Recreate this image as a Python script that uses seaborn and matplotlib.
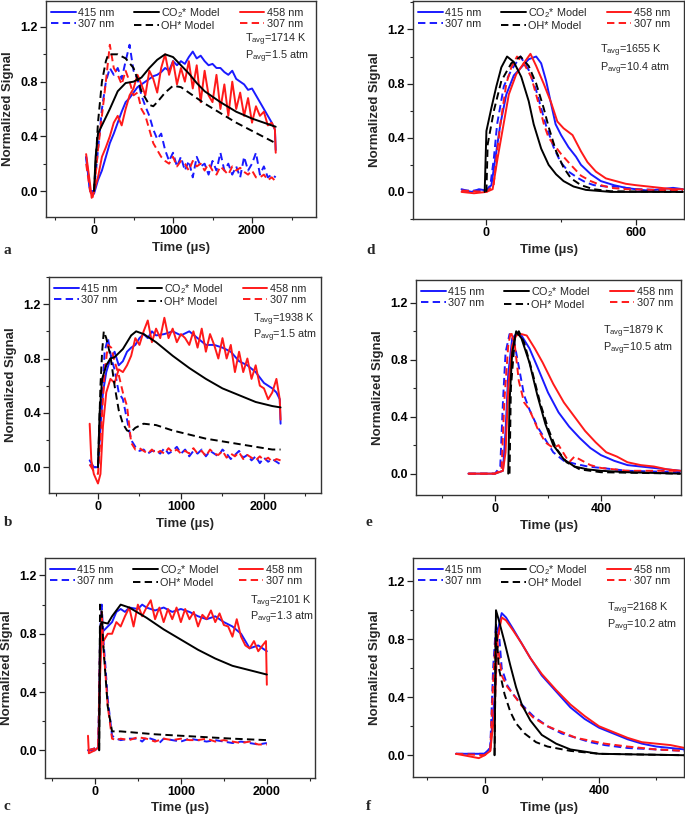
import matplotlib
matplotlib.use("Agg")
import matplotlib.pyplot as plt
import seaborn as sns
from matplotlib.ticker import MultipleLocator, FormatStrFormatter
from matplotlib.lines import Line2D

# -- Data ----------------------------------------------------------------------
# panel a : 1714 K, 1.5 atm
a_415_t = [-100, -50, 0, 50, 100, 150, 200, 250, 300, 350, 400, 450, 500, 550, 600, 650, 700, 750, 800, 850, 900,
           950, 1000, 1050, 1100, 1150, 1200, 1250, 1300, 1350, 1400, 1450, 1500, 1550, 1600, 1650, 1700, 1750, 1800,
           1850, 1900, 1950, 2000, 2050, 2100, 2150, 2200, 2250, 2290, 2300]
a_415 = [0.25, 0.0, -0.02, 0.08, 0.15, 0.25, 0.35, 0.42, 0.5, 0.58, 0.65, 0.68, 0.72, 0.76, 0.78, 0.8, 0.82, 0.84,
         0.85, 0.87, 0.9, 0.88, 0.95, 0.92, 0.95, 0.93, 0.98, 1.02, 0.97, 0.99, 0.95, 0.92, 0.93, 0.9, 0.9, 0.87,
         0.85, 0.88, 0.82, 0.8, 0.78, 0.74, 0.75, 0.7, 0.65, 0.6, 0.55, 0.5, 0.45, 0.3]
a_458_t = [-100, -50, -30, 0, 50, 100, 150, 200, 250, 300, 350, 400, 450, 500, 550, 600, 650, 700, 750, 800, 850, 900,
           950, 1000, 1050, 1100, 1150, 1200, 1250, 1300, 1350, 1400, 1450, 1500, 1550, 1600, 1650, 1700, 1750, 1800,
           1850, 1900, 1950, 2000, 2050, 2100, 2150, 2200, 2250, 2290, 2300]
a_458 = [0.27, 0.05, -0.05, 0.0, 0.1, 0.25, 0.32, 0.4, 0.5, 0.55, 0.48, 0.6, 0.7, 0.75, 0.85, 0.78, 0.7, 0.88, 0.82,
         0.72, 0.9, 1.0, 0.85, 0.95, 0.78, 0.9, 0.8, 0.95, 0.75, 0.92, 0.65, 0.88, 0.7, 0.65, 0.85, 0.6, 0.78, 0.55,
         0.8, 0.6, 0.72, 0.55, 0.68, 0.5, 0.62, 0.55, 0.58, 0.48, 0.5, 0.45, 0.28]
a_co2_t = [0, 20, 50, 100, 200, 300, 400, 500, 600, 700, 800, 900, 1000, 1100, 1200, 1300, 1400, 1600, 1800, 2000,
           2200, 2300]
a_co2 = [0.0, 0.25, 0.42, 0.48, 0.6, 0.73, 0.79, 0.8, 0.83, 0.9, 0.96, 1.0, 0.98, 0.92, 0.86, 0.79, 0.73, 0.65, 0.58,
         0.53, 0.49, 0.47]
a_oh_t = [0, 50, 100, 150, 180, 300, 400, 500, 550, 600, 700, 750, 800, 900, 1000, 1100, 1200, 1400, 1600, 1800, 2000,
          2200, 2300]
a_oh = [0.0, 0.5, 0.8, 0.95, 1.0, 1.0, 0.97, 0.9, 0.82, 0.73, 0.63, 0.62, 0.65, 0.72, 0.77, 0.76, 0.72, 0.64, 0.57,
        0.5, 0.44, 0.38, 0.35]
a_307b_t = [-100, -50, 0, 50, 100, 150, 200, 250, 300, 350, 400, 450, 500, 550, 600, 650, 700, 750, 800, 850, 900, 950,
            1000, 1050, 1100, 1150, 1200, 1250, 1300, 1350, 1400, 1450, 1500, 1550, 1600, 1650, 1700, 1750, 1800, 1850,
            1900, 1950, 2000, 2050, 2100, 2150, 2200, 2250, 2300]
a_307b = [0.25, 0.0, 0.0, 0.3, 0.6, 0.8, 0.9, 0.85, 0.9, 0.82, 0.95, 1.07, 0.88, 0.82, 0.7, 0.62, 0.55, 0.45, 0.38,
          0.42, 0.3, 0.22, 0.28, 0.18, 0.25, 0.15, 0.22, 0.1, 0.25, 0.18, 0.2, 0.12, 0.22, 0.15, 0.28, 0.15, 0.2, 0.12,
          0.18, 0.1, 0.25, 0.15, 0.2, 0.28, 0.12, 0.18, 0.1, 0.12, 0.1]
a_307r_t = [-100, -50, -20, 0, 50, 100, 150, 200, 250, 300, 350, 400, 450, 500, 550, 600, 650, 700, 750, 800, 850, 900,
            950, 1000, 1050, 1100, 1150, 1200, 1250, 1300, 1350, 1400, 1450, 1500, 1550, 1600, 1650, 1700, 1750, 1800,
            1850, 1900, 1950, 2000, 2050, 2100, 2150, 2200, 2250, 2300]
a_307r = [0.2, 0.0, -0.05, 0.0, 0.3, 0.55, 0.8, 1.07, 0.9, 0.85, 0.78, 0.88, 0.8, 0.7, 0.72, 0.6, 0.55, 0.45, 0.35,
          0.3, 0.25, 0.22, 0.2, 0.25, 0.18, 0.22, 0.2, 0.15, 0.22, 0.18, 0.2, 0.15, 0.2, 0.15, 0.12, 0.18, 0.15, 0.12,
          0.18, 0.15, 0.17, 0.14, 0.12, 0.15, 0.1, 0.1, 0.12, 0.08, 0.1, 0.07]

# panel b : 1938 K, 1.5 atm
b_415_t = [-100, -50, 0, 30, 60, 100, 150, 200, 250, 300, 350, 400, 450, 500, 550, 600, 650, 700, 800, 900, 1000, 1100,
           1200, 1300, 1400, 1500, 1600, 1700, 1800, 1900, 2000, 2100, 2150, 2190, 2200]
b_415 = [0.05, 0.0, 0.0, 0.3, 0.55, 0.7, 0.8, 0.85, 0.75, 0.78, 0.85, 0.88, 0.9, 0.95, 0.98, 0.95, 1.0, 0.97, 0.98,
         1.0, 0.97, 1.0, 0.95, 0.9, 0.9, 0.88, 0.85, 0.78, 0.75, 0.7, 0.62, 0.58, 0.55, 0.5, 0.32]
b_458_t = [-100, -80, -50, 0, 30, 60, 100, 150, 200, 250, 300, 350, 400, 450, 500, 550, 600, 650, 700, 750, 800, 850,
           900, 950, 1000, 1050, 1100, 1150, 1200, 1250, 1300, 1350, 1400, 1450, 1500, 1550, 1600, 1650, 1700, 1750,
           1800, 1850, 1900, 1950, 2000, 2050, 2100, 2150, 2190, 2200]
b_458 = [0.32, 0.05, -0.05, -0.12, -0.05, 0.3, 0.55, 0.65, 0.62, 0.72, 0.7, 0.75, 0.82, 0.95, 0.9, 1.0, 1.08, 0.92,
         1.02, 0.95, 1.1, 0.95, 1.02, 0.92, 0.98, 0.95, 0.9, 1.0, 0.88, 1.02, 0.85, 0.98, 0.9, 0.8, 0.95, 0.8, 0.9,
         0.7, 0.85, 0.7, 0.8, 0.65, 0.75, 0.6, 0.58, 0.5, 0.55, 0.65, 0.5, 0.35]
b_co2_t = [0, 20, 50, 100, 150, 200, 300, 400, 460, 550, 700, 900, 1100, 1300, 1500, 1700, 1900, 2100, 2200]
b_co2 = [0.0, 0.4, 0.65, 0.75, 0.8, 0.81, 0.87, 0.97, 1.0, 0.98, 0.92, 0.82, 0.73, 0.65, 0.58, 0.53, 0.48, 0.45, 0.44]
b_oh_t = [0, 30, 50, 70, 100, 150, 200, 250, 300, 350, 400, 450, 550, 700, 900, 1100, 1300, 1500, 1700, 1900, 2100,
          2200]
b_oh = [0.0, 0.6, 0.85, 1.0, 0.95, 0.82, 0.6, 0.42, 0.32, 0.27, 0.26, 0.29, 0.32, 0.31, 0.27, 0.24, 0.21, 0.19, 0.17,
        0.15, 0.13, 0.13]
b_307b_t = [-100, -50, 0, 40, 80, 120, 160, 200, 250, 300, 350, 400, 450, 500, 550, 600, 650, 700, 750, 800, 850, 900,
            950, 1000, 1050, 1100, 1150, 1200, 1250, 1300, 1350, 1400, 1450, 1500, 1550, 1600, 1650, 1700, 1750, 1800,
            1850, 1900, 1950, 2000, 2050, 2100, 2150, 2200]
b_307b = [0.02, 0.0, 0.0, 0.4, 0.85, 0.95, 0.8, 0.72, 0.55, 0.5, 0.35, 0.2, 0.15, 0.12, 0.13, 0.1, 0.12, 0.12, 0.1,
          0.14, 0.1, 0.12, 0.15, 0.1, 0.13, 0.08, 0.12, 0.1, 0.13, 0.08, 0.12, 0.1, 0.08, 0.13, 0.1, 0.06, 0.09, 0.12,
          0.07, 0.09, 0.05, 0.08, 0.03, 0.07, 0.04, 0.06, 0.04, 0.02]
b_307r_t = [-100, -50, 0, 40, 80, 120, 160, 200, 250, 300, 350, 400, 450, 500, 550, 600, 650, 700, 750, 800, 850, 900,
            950, 1000, 1050, 1100, 1150, 1200, 1250, 1300, 1350, 1400, 1450, 1500, 1550, 1600, 1650, 1700, 1750, 1800,
            1850, 1900, 1950, 2000, 2050, 2100, 2150, 2200]
b_307r = [0.02, -0.03, -0.05, 0.3, 0.7, 0.9, 0.88, 0.78, 0.68, 0.55, 0.45, 0.18, 0.13, 0.14, 0.12, 0.1, 0.13, 0.1,
          0.12, 0.1, 0.14, 0.11, 0.13, 0.1, 0.12, 0.1, 0.14, 0.1, 0.12, 0.08, 0.13, 0.1, 0.09, 0.12, 0.07, 0.1, 0.08,
          0.11, 0.06, 0.09, 0.07, 0.05, 0.08, 0.05, 0.07, 0.04, 0.06, 0.05]

# panel c : 2101 K, 1.3 atm
c_415_t = [-80, 0, 40, 60, 80, 100, 150, 200, 250, 300, 350, 400, 500, 550, 600, 700, 800, 900, 1000, 1100, 1200, 1300,
           1400, 1500, 1600, 1700, 1750, 1800, 1900, 2000]
c_415 = [0.0, 0.0, 0.02, 0.6, 0.85, 0.82, 0.85, 0.88, 0.95, 0.97, 0.95, 0.98, 0.97, 1.0, 0.98, 0.96, 0.98, 0.95, 0.97,
         0.95, 0.92, 0.9, 0.92, 0.88, 0.85, 0.8, 0.75, 0.7, 0.72, 0.68]
c_458_t = [-80, -70, 0, 40, 60, 80, 100, 150, 200, 250, 300, 350, 400, 450, 500, 550, 600, 650, 700, 750, 800, 850, 900,
           950, 1000, 1050, 1100, 1150, 1200, 1250, 1300, 1350, 1400, 1450, 1500, 1550, 1600, 1650, 1700, 1750, 1800,
           1850, 1900, 1950, 1990, 2000]
c_458 = [0.1, -0.02, 0.0, 0.02, 0.5, 0.82, 0.75, 0.8, 0.8, 0.88, 0.85, 0.92, 0.98, 0.85, 1.0, 0.92, 0.98, 1.03, 0.9,
         0.98, 0.88, 0.97, 0.9, 0.98, 0.88, 0.97, 0.9, 0.95, 0.85, 0.93, 0.9, 0.96, 0.88, 0.94, 0.86, 0.85, 0.78, 0.9,
         0.78, 0.72, 0.7, 0.75, 0.68, 0.72, 0.75, 0.45]
c_co2_t = [50, 60, 80, 150, 200, 300, 400, 600, 800, 1000, 1200, 1400, 1600, 1800, 2000]
c_co2 = [0.0, 0.85, 0.88, 0.87, 0.92, 1.0, 0.98, 0.91, 0.83, 0.76, 0.69, 0.63, 0.58, 0.55, 0.52]
c_oh_t = [50, 60, 80, 100, 150, 200, 300, 500, 700, 1000, 1300, 1600, 2000]
c_oh = [0.0, 1.0, 0.95, 0.7, 0.3, 0.13, 0.13, 0.12, 0.11, 0.1, 0.09, 0.08, 0.07]
c_307b_t = [-80, 40, 60, 80, 100, 120, 150, 200, 250, 300, 400, 500, 550, 600, 700, 750, 800, 900, 1000, 1100, 1200,
            1300, 1400, 1500, 1600, 1700, 1800, 1900, 2000]
c_307b = [0.0, 0.02, 0.8, 1.0, 0.75, 0.6, 0.35, 0.1, 0.08, 0.07, 0.08, 0.08, 0.06, 0.09, 0.07, 0.05, 0.08, 0.07, 0.06,
          0.08, 0.07, 0.06, 0.07, 0.06, 0.05, 0.06, 0.05, 0.04, 0.05]
c_307r_t = [-80, 40, 60, 80, 100, 120, 150, 200, 250, 300, 400, 500, 600, 700, 800, 900, 1000, 1100, 1200, 1300, 1400,
            1500, 1600, 1700, 1800, 1900, 2000]
c_307r = [0.0, 0.02, 0.75, 0.95, 0.7, 0.55, 0.3, 0.08, 0.07, 0.08, 0.07, 0.09, 0.08, 0.06, 0.08, 0.07, 0.08, 0.07,
          0.07, 0.08, 0.06, 0.07, 0.06, 0.05, 0.06, 0.04, 0.04]

# panel d : 1655 K, 10.4 atm
d_415_t = [-100, -60, -30, 0, 20, 40, 56, 80, 110, 140, 170, 200, 220, 240, 260, 278, 300, 330, 360, 380, 420, 460,
           512, 560, 600, 650, 700, 750, 790]
d_415 = [0.02, 0.0, 0.02, 0.01, 0.05, 0.3, 0.5, 0.72, 0.86, 0.92, 0.98, 1.0, 0.95, 0.82, 0.65, 0.5, 0.42, 0.33, 0.26,
         0.2, 0.13, 0.08, 0.05, 0.03, 0.02, 0.01, 0.02, 0.03, 0.02]
d_458_t = [-100, -50, 0, 25, 45, 69, 90, 120, 150, 177, 200, 230, 260, 285, 310, 346, 380, 406, 440, 480, 520, 560,
           600, 650, 700, 750, 790]
d_458 = [0.0, -0.01, 0.0, 0.02, 0.25, 0.5, 0.72, 0.87, 0.95, 1.02, 0.93, 0.8, 0.66, 0.52, 0.47, 0.42, 0.3, 0.22, 0.15,
         0.1, 0.08, 0.06, 0.05, 0.04, 0.03, 0.02, 0.02]
d_co2_t = [-7, 0, 20, 40, 60, 83, 110, 140, 170, 190, 220, 250, 280, 310, 350, 400, 500, 790]
d_co2 = [0.0, 0.45, 0.62, 0.78, 0.92, 1.0, 0.96, 0.85, 0.67, 0.5, 0.32, 0.2, 0.13, 0.08, 0.04, 0.015, 0.0, 0.0]
d_oh_t = [0, 5, 30, 60, 100, 137, 170, 200, 230, 250, 280, 310, 340, 380, 430, 500, 790]
d_oh = [0.0, 0.35, 0.6, 0.82, 0.95, 1.0, 0.93, 0.8, 0.62, 0.48, 0.3, 0.18, 0.1, 0.05, 0.02, 0.005, 0.0]
d_307b_t = [-100, 0, 16, 30, 43, 70, 100, 137, 170, 200, 238, 270, 298, 330, 370, 400, 432, 480, 520, 560, 600, 790]
d_307b = [0.01, 0.01, 0.05, 0.25, 0.5, 0.78, 0.9, 1.0, 0.9, 0.75, 0.5, 0.33, 0.22, 0.15, 0.1, 0.07, 0.05, 0.04, 0.04,
          0.03, 0.02, 0.01]
d_307r_t = [-100, 0, 29, 40, 56, 80, 100, 123, 150, 180, 210, 231, 250, 271, 300, 339, 380, 419, 460, 500, 560, 790]
d_307r = [0.01, 0.0, 0.05, 0.25, 0.5, 0.8, 0.92, 1.0, 0.95, 0.85, 0.65, 0.5, 0.4, 0.35, 0.28, 0.2, 0.12, 0.08, 0.05,
          0.03, 0.02, 0.01]

# panel e : 1879 K, 10.5 atm
e_415_t = [-100, 0, 30, 40, 50, 65, 80, 100, 130, 160, 200, 240, 280, 320, 360, 400, 450, 500, 600, 700]
e_415 = [0.0, 0.0, 0.02, 0.3, 0.7, 0.95, 0.98, 0.97, 0.88, 0.75, 0.57, 0.43, 0.33, 0.25, 0.18, 0.13, 0.09, 0.06, 0.04,
         0.02]
e_458_t = [-100, 0, 30, 40, 50, 65, 80, 100, 120, 150, 180, 220, 260, 300, 340, 380, 420, 460, 500, 550, 600, 650, 700]
e_458 = [0.0, 0.0, 0.02, 0.15, 0.6, 0.9, 0.97, 0.98, 0.97, 0.88, 0.78, 0.63, 0.5, 0.4, 0.3, 0.22, 0.15, 0.12, 0.08,
         0.06, 0.05, 0.03, 0.02]
e_co2_t = [50, 55, 65, 80, 100, 130, 160, 190, 220, 260, 300, 350, 400, 500, 700]
e_co2 = [0.0, 0.5, 0.85, 1.0, 0.95, 0.78, 0.55, 0.35, 0.2, 0.1, 0.05, 0.03, 0.02, 0.01, 0.0]
e_oh_t = [55, 60, 75, 90, 110, 140, 170, 200, 230, 270, 320, 400, 700]
e_oh = [0.0, 0.6, 0.95, 1.0, 0.92, 0.72, 0.5, 0.32, 0.18, 0.08, 0.03, 0.01, 0.0]
e_307b_t = [-100, 0, 20, 30, 40, 55, 70, 90, 110, 130, 160, 190, 220, 260, 300, 350, 400, 500, 700]
e_307b = [0.0, 0.0, 0.05, 0.5, 0.85, 0.98, 0.95, 0.75, 0.55, 0.45, 0.33, 0.24, 0.15, 0.09, 0.07, 0.05, 0.04, 0.02,
          0.01]
e_307r_t = [-100, 0, 25, 35, 50, 60, 75, 90, 110, 130, 160, 190, 220, 240, 260, 280, 300, 330, 360, 400, 450, 500, 700]
e_307r = [0.0, 0.0, 0.03, 0.5, 0.9, 1.0, 0.9, 0.65, 0.5, 0.45, 0.32, 0.22, 0.18, 0.2, 0.14, 0.08, 0.12, 0.09, 0.06,
          0.04, 0.03, 0.02, 0.02]

# panel f : 2168 K, 10.2 atm
f_415_t = [-100, 0, 20, 35, 45, 60, 75, 100, 130, 160, 200, 250, 300, 350, 400, 450, 500, 550, 600, 650, 700]
f_415 = [0.01, 0.01, 0.05, 0.4, 0.85, 0.98, 0.95, 0.87, 0.77, 0.67, 0.55, 0.44, 0.33, 0.25, 0.19, 0.15, 0.11, 0.08,
         0.06, 0.05, 0.04]
f_458_t = [-100, -20, 0, 20, 35, 45, 60, 75, 100, 130, 160, 200, 250, 300, 350, 400, 450, 500, 550, 600, 650, 700]
f_458 = [0.01, -0.02, 0.0, 0.03, 0.3, 0.8, 0.95, 0.93, 0.86, 0.77, 0.67, 0.56, 0.45, 0.35, 0.27, 0.2, 0.16, 0.12,
         0.09, 0.08, 0.07, 0.05]
f_co2_t = [35, 40, 50, 70, 90, 110, 130, 160, 200, 250, 300, 400, 700]
f_co2 = [0.0, 1.0, 0.93, 0.78, 0.62, 0.47, 0.35, 0.24, 0.14, 0.08, 0.04, 0.01, 0.0]
f_oh_t = [35, 40, 50, 70, 90, 110, 140, 180, 220, 300, 400, 700]
f_oh = [0.0, 0.9, 0.6, 0.42, 0.3, 0.22, 0.15, 0.09, 0.06, 0.03, 0.01, 0.0]
f_307b_t = [-100, 0, 20, 30, 40, 50, 60, 80, 100, 130, 170, 220, 270, 320, 370, 420, 500, 600, 700]
f_307b = [0.01, 0.01, 0.05, 0.6, 0.9, 0.85, 0.6, 0.48, 0.42, 0.35, 0.27, 0.2, 0.15, 0.12, 0.09, 0.07, 0.05, 0.04,
          0.03]
f_307r_t = [-100, 0, 20, 30, 40, 50, 60, 80, 100, 130, 170, 220, 270, 320, 370, 420, 500, 600, 700]
f_307r = [0.01, 0.0, 0.03, 0.5, 0.85, 0.7, 0.55, 0.47, 0.42, 0.34, 0.26, 0.2, 0.16, 0.12, 0.1, 0.08, 0.06, 0.04, 0.03]

T_AVG = {"a": "1714", "b": "1938", "c": "2101", "d": "1655", "e": "1879", "f": "2168"}
P_AVG = {"a": "1.5", "b": "1.5", "c": "1.3", "d": "10.4", "e": "10.5", "f": "10.2"}

# -- Layout (pixel boxes: left, top, right, bottom) -----------------------------
W, H = 685, 817
BOX = {
    "a": (46, 1, 316, 217), "d": (413, 1, 684, 219),
    "b": (49, 277, 321, 493), "e": (416, 280, 681, 495),
    "c": (45, 558, 315, 778), "f": (413, 558, 684, 777),
}
XLIM = {"a": (-608, 2810), "b": (-590, 2687), "c": (-580, 2560),
        "d": (-295, 794), "e": (-298, 702), "f": (-250, 697)}
YLIM = {"a": (-0.19, 1.39), "b": (-0.19, 1.40), "c": (-0.19, 1.32),
        "d": (-0.20, 1.41), "e": (-0.15, 1.36), "f": (-0.15, 1.36)}
XMAJOR = {"a": 1000, "b": 1000, "c": 1000, "d": 600, "e": 400, "f": 400}
TEXT_POS = {"a": (0.737, 0.82, 0.74), "b": (0.75, 0.80, 0.73), "c": (0.76, 0.80, 0.73),
            "d": (0.69, 0.77, 0.69), "e": (0.705, 0.76, 0.68), "f": (0.715, 0.77, 0.69)}
LETTER_POS = {"a": (4, 250), "b": (4, 522), "c": (4, 807),
              "d": (366, 250), "e": (366, 523), "f": (366, 807)}

sns.set_theme(style="ticks")
plt.rcParams["font.family"] = ["Liberation Sans", "DejaVu Sans"]
plt.rcParams["mathtext.fontset"] = "custom"
plt.rcParams["mathtext.rm"] = "Liberation Sans"
plt.rcParams["mathtext.it"] = "Liberation Sans:italic"
plt.rcParams["mathtext.bf"] = "Liberation Sans:bold"
plt.rcParams["lines.dashed_pattern"] = (3.8, 2.2)

BLUE, RED, BLACK = "#1a1aff", "#ff1a1a", "#000000"
LW = 1.4

fig = plt.figure(figsize=(W / 100, H / 100), dpi=100)
g = globals()

for p in "abcdef":
    l, t, r, b = BOX[p]
    ax = fig.add_axes([l / W, 1 - b / H, (r - l) / W, (b - t) / H])

    series = [
        ("415", BLUE, "-"), ("307b", BLUE, "--"),
        ("458", RED, "-"), ("307r", RED, "--"),
        ("co2", BLACK, "-"), ("oh", BLACK, "--"),
    ]
    for key, col, ls in series:
        sns.lineplot(x=g[f"{p}_{key}_t"], y=g[f"{p}_{key}"], ax=ax, color=col, linestyle=ls,
                     lw=LW, estimator=None, sort=False)

    ax.set_xlim(*XLIM[p])
    ax.set_ylim(*YLIM[p])
    ax.xaxis.set_major_locator(MultipleLocator(XMAJOR[p]))
    ax.xaxis.set_minor_locator(MultipleLocator(XMAJOR[p] / 2))
    ax.yaxis.set_major_locator(MultipleLocator(0.4))
    ax.yaxis.set_minor_locator(MultipleLocator(0.2))
    ax.yaxis.set_major_formatter(FormatStrFormatter("%.1f"))
    ax.tick_params(which="major", direction="out", length=4, width=0.9, labelsize=9, pad=2, colors="#222222")
    ax.tick_params(which="minor", direction="out", length=2.5, width=0.8)
    for lab in ax.get_xticklabels() + ax.get_yticklabels():
        lab.set_fontweight("bold")
        lab.set_color("black")
    for sp in ax.spines.values():
        sp.set_visible(True)
        sp.set_color("#333333")
        sp.set_linewidth(1.0)

    ax.set_xlabel("Time (\u00b5s)", fontsize=9.5, fontweight="bold", labelpad=3)
    ax.set_ylabel("Normalized Signal", fontsize=9.5, fontweight="bold", labelpad=4)

    handles = [
        Line2D([], [], color=BLUE, lw=LW, ls="-"), Line2D([], [], color=BLUE, lw=LW, ls="--"),
        Line2D([], [], color=BLACK, lw=LW, ls="-"), Line2D([], [], color=BLACK, lw=LW, ls="--"),
        Line2D([], [], color=RED, lw=LW, ls="-"), Line2D([], [], color=RED, lw=LW, ls="--"),
    ]
    labels = ["415 nm", "307 nm", "CO$_2$* Model", "OH* Model", "458 nm", "307 nm"]
    ax.legend(handles, labels, ncol=3, loc="upper left", bbox_to_anchor=(0.0, 1.0), frameon=False,
              fontsize=7.8, handlelength=2.3, handletextpad=0.2, columnspacing=1.8,
              labelspacing=0.1, borderaxespad=0.25, borderpad=0.2)

    tx, ty, py = TEXT_POS[p]
    ax.text(tx, ty, "T$_{\\mathrm{avg}}$=" + T_AVG[p] + " K", transform=ax.transAxes,
            fontsize=7.8, va="center", ha="left")
    ax.text(tx, py, "P$_{\\mathrm{avg}}$=" + P_AVG[p] + " atm", transform=ax.transAxes,
            fontsize=7.8, va="center", ha="left")

    lx, ly = LETTER_POS[p]
    fig.text(lx / W, 1 - ly / H, p, fontsize=11, fontweight="bold",
             family=["Liberation Serif", "DejaVu Serif"], va="center", ha="left")

fig.savefig("out.png", dpi=100)
